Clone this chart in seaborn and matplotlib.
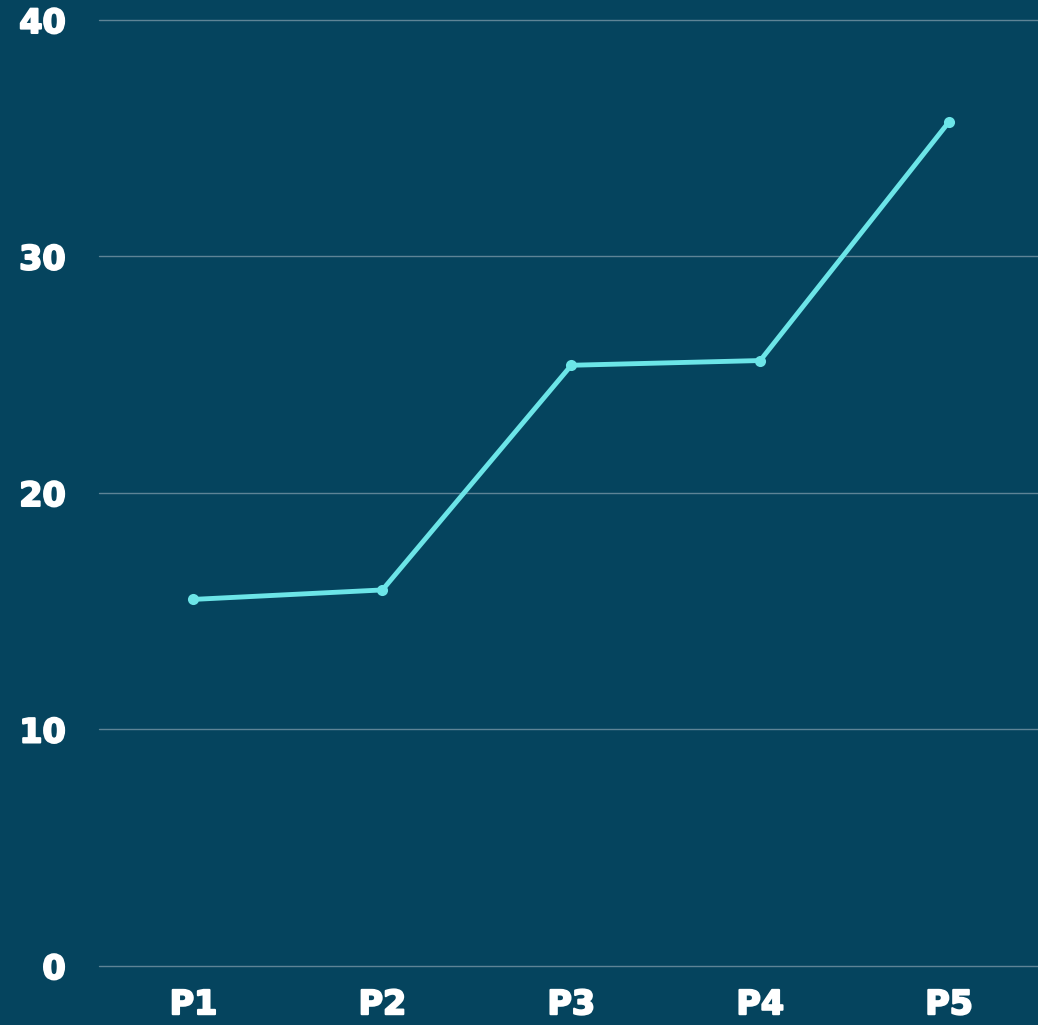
import pandas as pd
import seaborn as sns
import matplotlib.pyplot as plt
import matplotlib.patheffects as pe

# Data
periods = ['P1', 'P2', 'P3', 'P4', 'P5']
values = [15.5, 15.9, 25.4, 25.6, 35.7]
y_ticks = [0, 10, 20, 30, 40]

df = pd.DataFrame({'period': periods, 'value': values})

bg = '#05445E'
line_color = '#6CE5E8'

sns.set_theme(style='white')
plt.rcParams['font.family'] = ['DejaVu Sans']

fig = plt.figure(figsize=(10.38, 10.25), dpi=100, facecolor=bg)
ax = fig.add_axes([0.0954, 0.0576, 0.91, 0.9229])
ax.set_facecolor(bg)

sns.lineplot(data=df, x='period', y='value', color=line_color, linewidth=3.5,
             marker='o', markersize=8, markeredgewidth=0, ax=ax)

ax.set_ylim(0, 40)
ax.set_xlim(-0.5, 4.5)
ax.set_yticks(y_ticks)
ax.yaxis.grid(True, color='#9ab0bd', linewidth=1, alpha=0.6)
for gl in ax.get_ygridlines():
    gl.set_clip_on(False)
ax.set_axisbelow(True)

for s in ax.spines.values():
    s.set_visible(False)

ax.tick_params(axis='both', length=0, labelcolor='white', labelsize=24)
ax.tick_params(axis='y', pad=24)
ax.tick_params(axis='x', pad=16)
# thicken the labels a bit to get closer to the heavy font of the original
for lbl in ax.get_xticklabels() + ax.get_yticklabels():
    lbl.set_fontweight('heavy')
    lbl.set_path_effects([pe.withStroke(linewidth=1.5, foreground='white')])

ax.set_xlabel('')
ax.set_ylabel('')

plt.savefig('out.png', dpi=100, facecolor=bg)
